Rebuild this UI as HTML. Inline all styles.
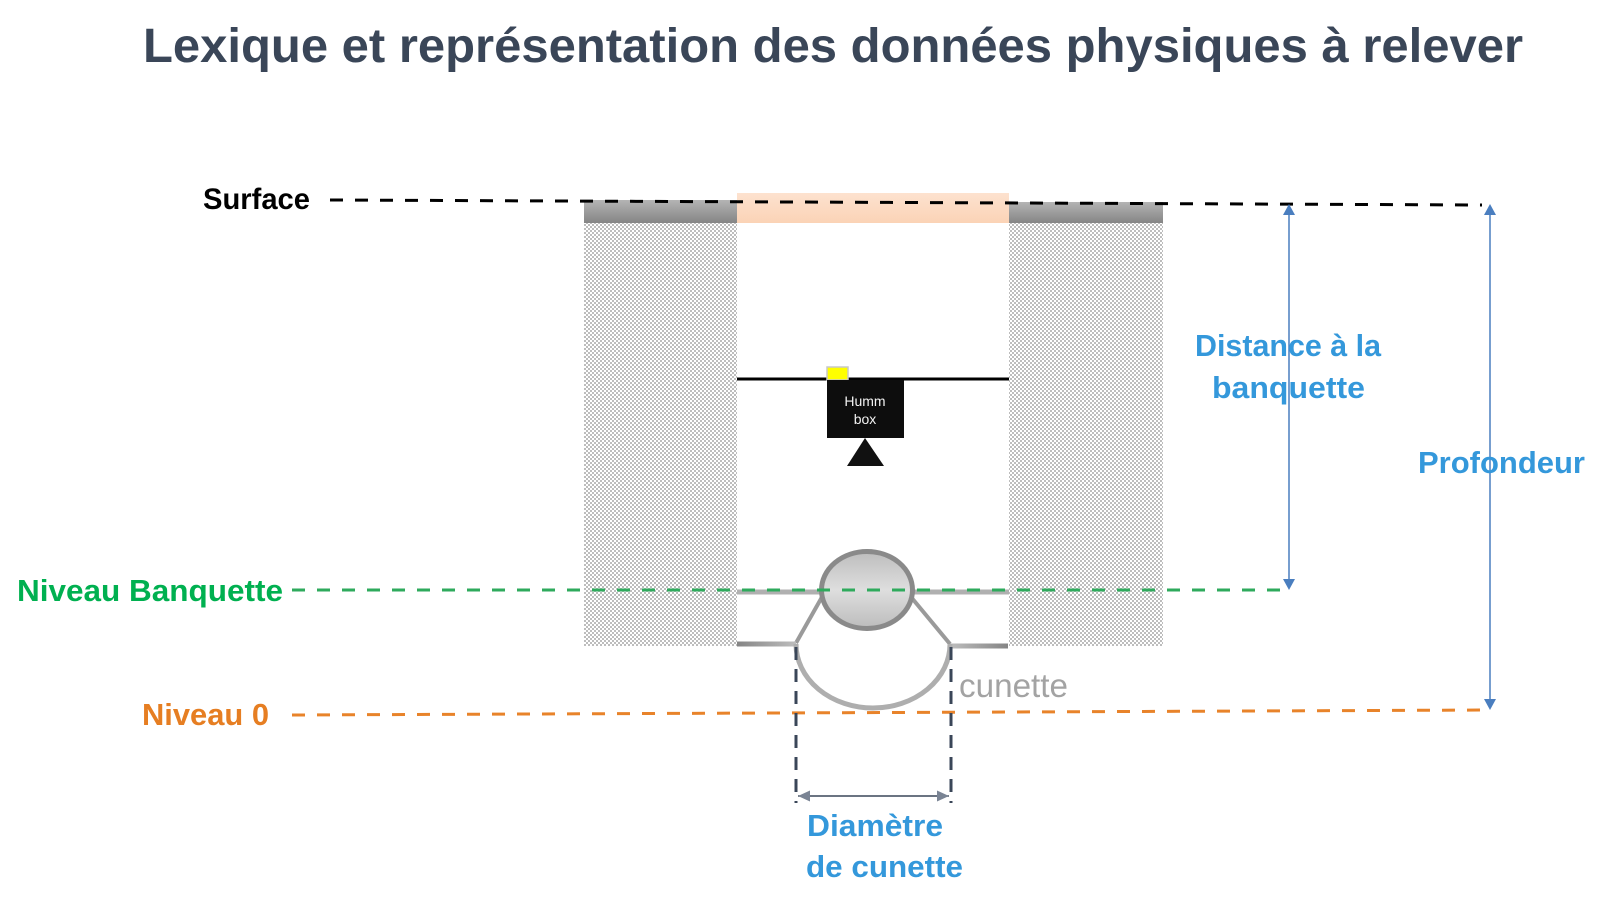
<!DOCTYPE html>
<html>
<head>
<meta charset="utf-8">
<style>
  html,body{margin:0;padding:0;background:#fff;}
  svg{display:block;}
  text{font-family:"Liberation Sans",sans-serif;}
</style>
</head>
<body>
<svg width="1606" height="909" viewBox="0 0 1606 909" xmlns="http://www.w3.org/2000/svg">
  <defs>
    <pattern id="hatch" width="4" height="4" patternUnits="userSpaceOnUse">
      <rect width="4" height="4" fill="#ffffff"/>
      <rect x="0" y="0" width="2" height="2" fill="#bdbdbd"/>
      <rect x="2" y="2" width="2" height="2" fill="#bdbdbd"/>
    </pattern>
    <linearGradient id="capG" x1="0" y1="0" x2="0" y2="1">
      <stop offset="0" stop-color="#b4b4b4"/>
      <stop offset="1" stop-color="#858585"/>
    </linearGradient>
    <linearGradient id="peachG" x1="0" y1="0" x2="0" y2="1">
      <stop offset="0" stop-color="#fde2cf"/>
      <stop offset="1" stop-color="#fbd3b6"/>
    </linearGradient>
    <linearGradient id="pipeG" x1="0" y1="0" x2="0" y2="1">
      <stop offset="0" stop-color="#bdbdbd"/>
      <stop offset="0.5" stop-color="#dedede"/>
      <stop offset="1" stop-color="#bcbcbc"/>
    </linearGradient>
    <linearGradient id="lineL" x1="0" y1="0" x2="1" y2="0">
      <stop offset="0" stop-color="#858585"/>
      <stop offset="1" stop-color="#bdbdbd"/>
    </linearGradient>
    <linearGradient id="lineR" x1="0" y1="0" x2="1" y2="0">
      <stop offset="0" stop-color="#bdbdbd"/>
      <stop offset="1" stop-color="#858585"/>
    </linearGradient>
  </defs>

  <!-- Title -->
  <text x="143" y="62" font-size="48" font-weight="bold" fill="#3a4658" textLength="1380" lengthAdjust="spacingAndGlyphs">Lexique et représentation des données physiques  à relever</text>

  <!-- Hatched soil columns -->
  <rect x="584" y="223" width="153" height="423" fill="url(#hatch)"/>
  <rect x="1009" y="223" width="154" height="423" fill="url(#hatch)"/>

  <!-- Caps -->
  <rect x="584" y="200" width="153" height="23" fill="url(#capG)"/>
  <rect x="1009" y="202" width="154" height="21" fill="url(#capG)"/>
  <rect x="737" y="193" width="272" height="30" fill="url(#peachG)"/>

  <!-- Humm box assembly -->
  <line x1="737" y1="379" x2="1009" y2="379" stroke="#000" stroke-width="3"/>
  <rect x="827" y="367" width="21" height="13" fill="#ffff00" stroke="#c8c8c8" stroke-width="1.5"/>
  <rect x="827" y="380" width="77" height="58" fill="#0d0d0d"/>
  <text x="865" y="406" font-size="14" fill="#f2f2f2" text-anchor="middle">Humm</text>
  <text x="865" y="424" font-size="14" fill="#f2f2f2" text-anchor="middle">box</text>
  <polygon points="865,438 847,466 884,466" fill="#111"/>

  <!-- Banquette + cunette -->
  <rect x="737" y="589.5" width="272" height="5" fill="#b0b0b0"/>
  <line x1="822" y1="597" x2="796" y2="643" stroke="#9a9a9a" stroke-width="4"/>
  <line x1="911" y1="597" x2="950" y2="644" stroke="#9a9a9a" stroke-width="4"/>
  <rect x="737" y="641.5" width="59" height="5" fill="url(#lineL)"/>
  <rect x="950" y="643.5" width="58" height="5" fill="url(#lineR)"/>
  <path d="M 796 644 A 77 64 0 0 0 950 644" fill="none" stroke="#aeaeae" stroke-width="5"/>
  <ellipse cx="867" cy="590" rx="45.5" ry="38.5" fill="url(#pipeG)" stroke="#8a8a8a" stroke-width="5"/>

  <text x="959" y="697" font-size="33" fill="#a3a3a3" textLength="109" lengthAdjust="spacingAndGlyphs">cunette</text>

  <!-- Dashed level lines -->
  <line x1="330" y1="200" x2="1482" y2="205" stroke="#000" stroke-width="3" stroke-dasharray="13 12"/>
  <line x1="292" y1="590" x2="1289" y2="590" stroke="#2eaa5c" stroke-width="3" stroke-dasharray="13 12"/>
  <line x1="292" y1="715" x2="1490" y2="710" stroke="#e8832a" stroke-width="3" stroke-dasharray="13 12"/>

  <!-- Diameter dimension -->
  <line x1="796" y1="647" x2="796" y2="803" stroke="#3a4658" stroke-width="3" stroke-dasharray="13 9"/>
  <line x1="951" y1="647" x2="951" y2="803" stroke="#3a4658" stroke-width="3" stroke-dasharray="13 9"/>
  <line x1="798" y1="796" x2="949" y2="796" stroke="#3a4658" stroke-width="1.5"/>
  <polygon points="798,796 810,790.5 810,801.5" fill="#7a8494"/>
  <polygon points="949,796 937,790.5 937,801.5" fill="#7a8494"/>

  <!-- Blue vertical arrows -->
  <line x1="1289" y1="210" x2="1289" y2="584" stroke="#4a7ebf" stroke-width="1.5"/>
  <polygon points="1289,204 1283,215 1295,215" fill="#4a7ebf"/>
  <polygon points="1289,590 1283,579 1295,579" fill="#4a7ebf"/>
  <line x1="1490" y1="210" x2="1490" y2="704" stroke="#4a7ebf" stroke-width="1.5"/>
  <polygon points="1490,204 1484,215 1496,215" fill="#4a7ebf"/>
  <polygon points="1490,710 1484,699 1496,699" fill="#4a7ebf"/>

  <!-- Labels -->
  <text x="203" y="209" font-size="30" font-weight="bold" fill="#000" textLength="107" lengthAdjust="spacingAndGlyphs">Surface</text>
  <text x="17" y="601" font-size="31" font-weight="bold" fill="#00b050" textLength="266" lengthAdjust="spacingAndGlyphs">Niveau Banquette</text>
  <text x="142" y="725" font-size="31" font-weight="bold" fill="#e67e22" textLength="127" lengthAdjust="spacingAndGlyphs">Niveau 0</text>

  <text x="1195" y="356" font-size="31" font-weight="bold" fill="#3498db" textLength="186" lengthAdjust="spacingAndGlyphs">Distance à la</text>
  <text x="1212" y="398" font-size="31" font-weight="bold" fill="#3498db" textLength="153" lengthAdjust="spacingAndGlyphs">banquette</text>
  <text x="1418" y="473" font-size="31" font-weight="bold" fill="#3498db" textLength="167" lengthAdjust="spacingAndGlyphs">Profondeur</text>

  <text x="807" y="836" font-size="31" font-weight="bold" fill="#3498db" textLength="136" lengthAdjust="spacingAndGlyphs">Diamètre</text>
  <text x="806" y="877" font-size="31" font-weight="bold" fill="#3498db" textLength="157" lengthAdjust="spacingAndGlyphs">de cunette</text>
</svg>
</body>
</html>
